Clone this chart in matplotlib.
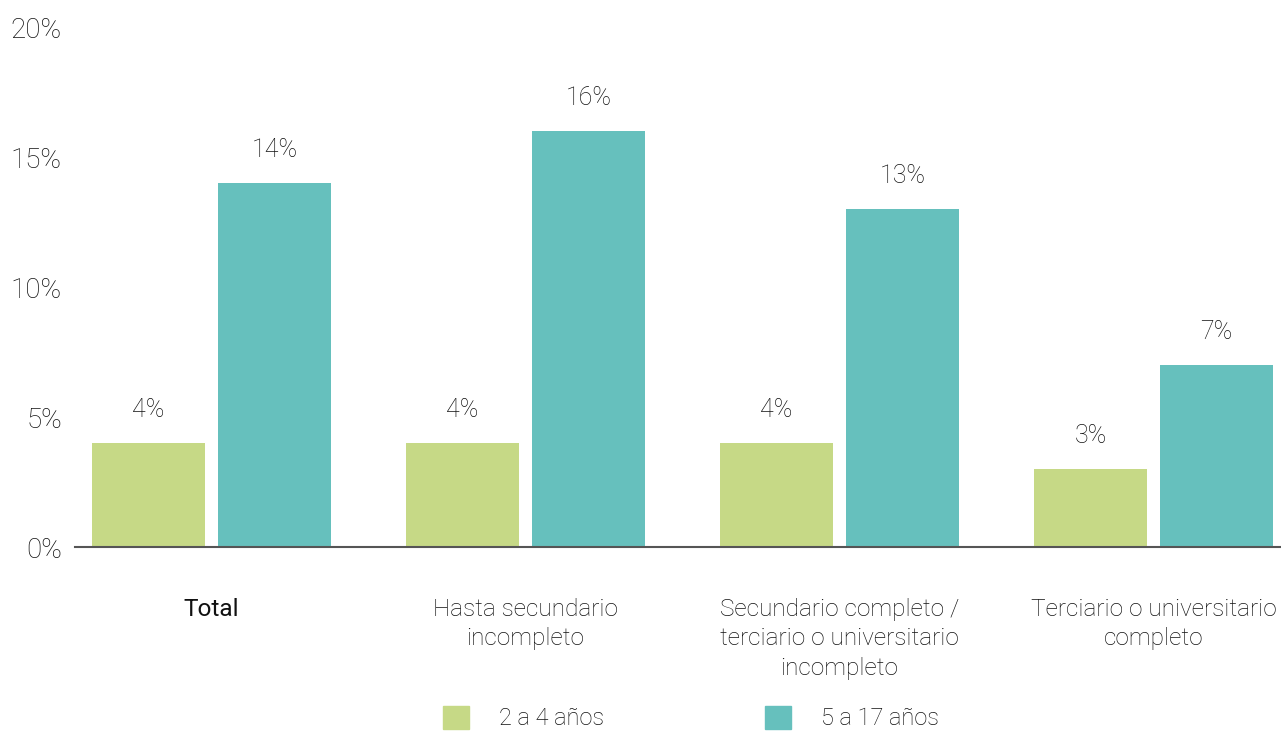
import matplotlib
matplotlib.use("Agg")
import matplotlib.pyplot as plt
import numpy as np
from matplotlib.patches import Patch

categories = ["Total", "Hasta secundario\nincompleto",
              "Secundario completo /\nterciario o universitario\nincompleto",
              "Terciario o universitario\ncompleto"]
series_names = ["2 a 4 años", "5 a 17 años"]
vals_2_4 = [4, 4, 4, 3]
vals_5_17 = [14, 16, 13, 7]
yticks = [0, 5, 10, 15, 20]

c_green = "#C6D986"
c_teal = "#66C0BD"
txt = "#111111"

plt.rcParams['font.family'] = ['Roboto', 'DejaVu Sans']

fig = plt.figure(figsize=(12.81, 7.31), dpi=100)
ax = fig.add_axes([75/1281, 1-547/731, (1280-75)/1281, 520/731])

x = np.arange(len(categories))
w = 0.36
off = 0.2006
b1 = ax.bar(x - off, vals_2_4, w, color=c_green, zorder=2)
b2 = ax.bar(x + off, vals_5_17, w, color=c_teal, zorder=2)

for bars, vals in ((b1, vals_2_4), (b2, vals_5_17)):
    for r, v in zip(bars, vals):
        ax.annotate(f"{v}%", (r.get_x() + r.get_width()/2, v),
                    xytext=(0, 24), textcoords="offset points",
                    ha="center", va="center", fontsize=18, color=txt,
                    fontweight="light")

ax.set_xlim(-0.4347, 3.403)
ax.set_ylim(0, 20)
ax.set_yticks(yticks)
ax.set_yticklabels([f"{t}%" for t in yticks], fontsize=20, color=txt,
                   fontweight="light", va="center_baseline")
ax.set_xticks(x)
ax.set_xticklabels(categories, fontsize=17.6, color=txt, fontweight="light",
                   linespacing=1.36)
ax.get_xticklabels()[0].set_fontweight("normal")
ax.tick_params(axis="y", length=0, pad=9.5)
ax.tick_params(axis="x", length=0, pad=36.5)

for s in ["top", "right", "left"]:
    ax.spines[s].set_visible(False)
ax.spines["bottom"].set_color("#555555")
ax.spines["bottom"].set_linewidth(1.5)
ax.spines["bottom"].set_zorder(3)

handles = [Patch(color=c_green), Patch(color=c_teal)]
fig.legend(handles, series_names, loc="center",
           bbox_to_anchor=((444+938)/2/1281, 1-718/731),
           ncol=2, frameon=False, handlelength=1.1,
           handleheight=1.15, handletextpad=1.27, columnspacing=6.8,
           borderpad=0, labelcolor=txt, prop={'weight': 'light', 'size': 17})

fig.savefig("out.png", dpi=100)
